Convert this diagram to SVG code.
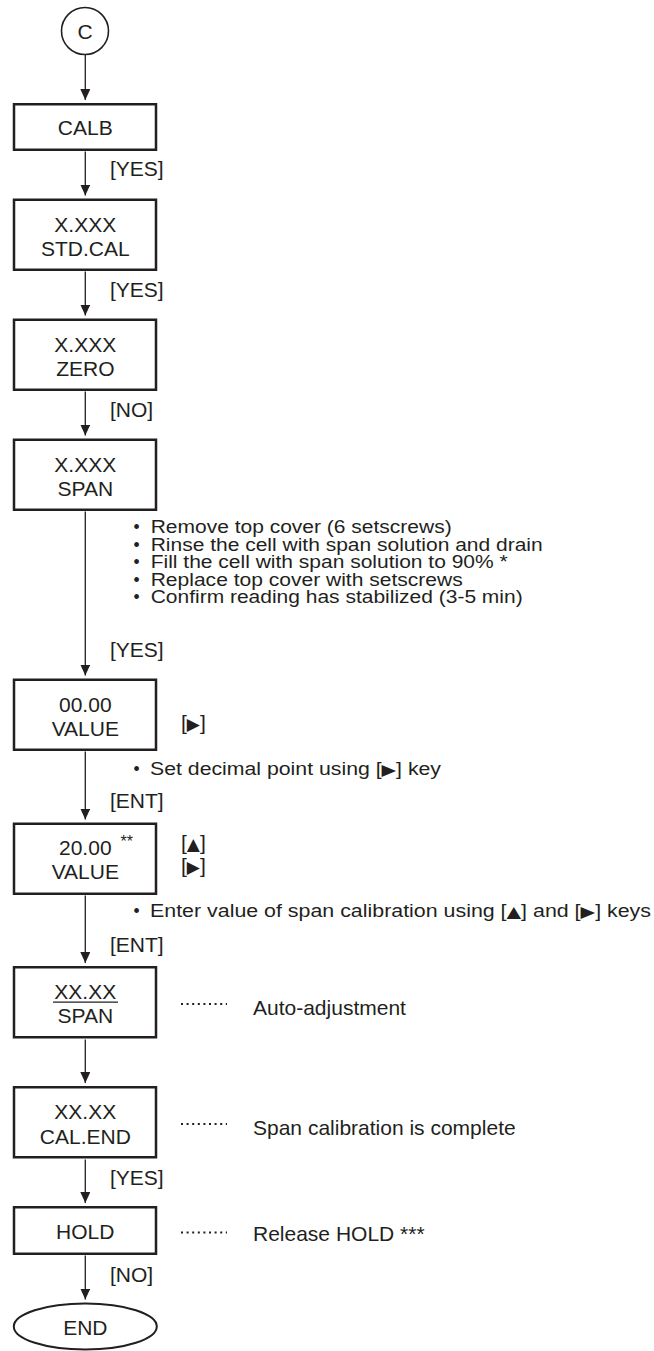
<svg xmlns="http://www.w3.org/2000/svg" width="654" height="1351" viewBox="0 0 654 1351">
<style>
  .box { fill: #ffffff; stroke: #231f20; stroke-width: 2.5; }
  .term { fill: #ffffff; stroke: #231f20; stroke-width: 2; }
  .conn { fill: none; stroke: #231f20; stroke-width: 1.3; }
  .lead { fill: none; stroke: #231f20; stroke-width: 2.2; stroke-dasharray: 2 3.6; }
  text { font-family: "Liberation Sans", Arial, Helvetica, sans-serif; font-size: 21px; fill: #231f20; }
  .c { text-anchor: middle; }
  .note { font-size: 17.5px; }
  .sym { font-family: "DejaVu Sans", "Liberation Sans", sans-serif; font-size: 17px; }
  .note .sym { font-size: 15.5px; }
  .sup { font-size: 16px; }
</style>
<defs>
  <marker id="arrow" viewBox="0 0 11 10" refX="11" refY="5" markerWidth="11" markerHeight="10" markerUnits="userSpaceOnUse" orient="auto">
    <path d="M0,0 L11,5 L0,10 z" fill="#231f20"/>
  </marker>
</defs>

<g id="connectors">
  <line class="conn" x1="85.3" y1="55" x2="85.3" y2="100" marker-end="url(#arrow)"/>
  <line class="conn" x1="85.3" y1="151.5" x2="85.3" y2="195.5" marker-end="url(#arrow)"/>
  <line class="conn" x1="85.3" y1="271.5" x2="85.3" y2="315.5" marker-end="url(#arrow)"/>
  <line class="conn" x1="85.3" y1="391.5" x2="85.3" y2="435.5" marker-end="url(#arrow)"/>
  <line class="conn" x1="85.3" y1="511.5" x2="85.3" y2="675.5" marker-end="url(#arrow)"/>
  <line class="conn" x1="85.3" y1="751.5" x2="85.3" y2="819.5" marker-end="url(#arrow)"/>
  <line class="conn" x1="85.3" y1="895.5" x2="85.3" y2="963" marker-end="url(#arrow)"/>
  <line class="conn" x1="85.3" y1="1039.5" x2="85.3" y2="1083" marker-end="url(#arrow)"/>
  <line class="conn" x1="85.3" y1="1159.5" x2="85.3" y2="1203" marker-end="url(#arrow)"/>
  <line class="conn" x1="85.3" y1="1255.5" x2="85.3" y2="1299.5" marker-end="url(#arrow)"/>
  <text x="110" y="176">[YES]</text>
  <text x="110" y="296.7">[YES]</text>
  <text x="110" y="416.7">[NO]</text>
  <text x="110" y="656.7">[YES]</text>
  <text x="110" y="808.3">[ENT]</text>
  <text x="110" y="951.7">[ENT]</text>
  <text x="110" y="1185">[YES]</text>
  <text x="110" y="1281.7">[NO]</text>
</g>

<g id="node-c">
  <circle cx="85" cy="31" r="23.5" fill="#ffffff" stroke="#231f20" stroke-width="1.6"/>
  <text class="c" x="85" y="39">C</text>
</g>

<g id="node-calb">
  <rect class="box" x="14" y="104.25" width="142" height="45.5"/>
  <text class="c" x="85.3" y="135">CALB</text>
</g>

<g id="node-stdcal">
  <rect class="box" x="14" y="199.75" width="142" height="70"/>
  <text class="c" x="85.3" y="231.7">X.XXX</text>
  <text class="c" x="85.3" y="256">STD.CAL</text>
</g>

<g id="node-zero">
  <rect class="box" x="14" y="319.75" width="142" height="70"/>
  <text class="c" x="85.3" y="351.7">X.XXX</text>
  <text class="c" x="85.3" y="375.7">ZERO</text>
</g>

<g id="node-span">
  <rect class="box" x="14" y="439.75" width="142" height="70"/>
  <text class="c" x="85.3" y="471.7">X.XXX</text>
  <text class="c" x="85.3" y="496">SPAN</text>
</g>

<g id="note-span">
  <text class="note" y="533.3"><tspan x="133.5">•</tspan><tspan x="150.7" textLength="301" lengthAdjust="spacingAndGlyphs">Remove top cover (6 setscrews)</tspan></text>
  <text class="note" y="550.7"><tspan x="133.5">•</tspan><tspan x="150.7" textLength="392" lengthAdjust="spacingAndGlyphs">Rinse the cell with span solution and drain</tspan></text>
  <text class="note" y="568.1"><tspan x="133.5">•</tspan><tspan x="150.7" textLength="357" lengthAdjust="spacingAndGlyphs">Fill the cell with span solution to 90% *</tspan></text>
  <text class="note" y="585.5"><tspan x="133.5">•</tspan><tspan x="150.7" textLength="312" lengthAdjust="spacingAndGlyphs">Replace top cover with setscrews</tspan></text>
  <text class="note" y="602.9"><tspan x="133.5">•</tspan><tspan x="150.7" textLength="372" lengthAdjust="spacingAndGlyphs">Confirm reading has stabilized (3-5 min)</tspan></text>
</g>

<g id="node-value1">
  <rect class="box" x="14" y="679.75" width="142" height="70"/>
  <text class="c" x="85.3" y="711.7">00.00</text>
  <text class="c" x="85.3" y="736">VALUE</text>
</g>

<g id="key-value1">
  <text x="181" y="730">[<tspan class="sym">▶</tspan>]</text>
  <text class="note" y="775"><tspan x="133.5">•</tspan><tspan x="150" textLength="291" lengthAdjust="spacingAndGlyphs">Set decimal point using [<tspan class="sym">▶</tspan>] key</tspan></text>
</g>

<g id="node-value2">
  <rect class="box" x="14" y="823.75" width="142" height="70"/>
  <text class="c" x="85.3" y="855">20.00</text>
  <text class="sup" x="120.5" y="846.5">**</text>
  <text class="c" x="85.3" y="879.3">VALUE</text>
</g>

<g id="key-value2">
  <text x="181" y="850">[<tspan class="sym">▲</tspan>]</text>
  <text x="181" y="873.3">[<tspan class="sym">▶</tspan>]</text>
  <text class="note" y="917"><tspan x="133.5">•</tspan><tspan x="150" textLength="501" lengthAdjust="spacingAndGlyphs">Enter value of span calibration using [<tspan class="sym">▲</tspan>] and [<tspan class="sym">▶</tspan>] keys</tspan></text>
</g>

<g id="node-span2">
  <rect class="box" x="14" y="967.25" width="142" height="70"/>
  <text class="c" x="85.3" y="999.3">XX.XX</text>
  <line x1="53" y1="1002.2" x2="118" y2="1002.2" stroke="#231f20" stroke-width="1.3"/>
  <text class="c" x="85.3" y="1023.3">SPAN</text>
  <line class="lead" x1="181" y1="1004" x2="227" y2="1004"/>
  <text x="253" y="1015">Auto-adjustment</text>
</g>

<g id="node-calend">
  <rect class="box" x="14" y="1087.25" width="142" height="70"/>
  <text class="c" x="85.3" y="1119.3">XX.XX</text>
  <text class="c" x="85.3" y="1144">CAL.END</text>
  <line class="lead" x1="181" y1="1124" x2="227" y2="1124"/>
  <text x="253" y="1135">Span calibration is complete</text>
</g>

<g id="node-hold">
  <rect class="box" x="14" y="1207.25" width="142" height="46.5"/>
  <text class="c" x="85.3" y="1239.3">HOLD</text>
  <line class="lead" x1="181" y1="1232.5" x2="227" y2="1232.5"/>
  <text x="253" y="1241">Release HOLD ***</text>
</g>

<g id="node-end">
  <ellipse class="term" cx="85.3" cy="1326.5" rx="71.5" ry="23"/>
  <text class="c" x="85.3" y="1335">END</text>
</g>
</svg>
